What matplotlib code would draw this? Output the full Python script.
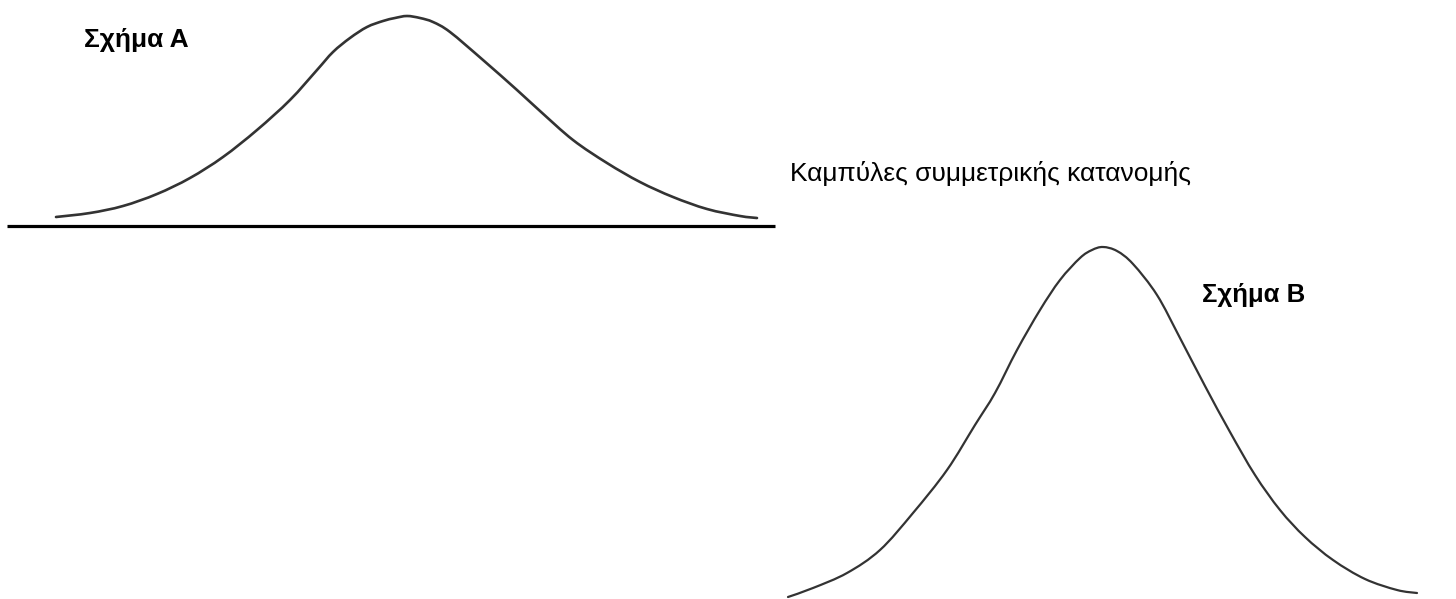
import matplotlib
matplotlib.use("Agg")
import matplotlib.pyplot as plt
import numpy as np
from matplotlib.path import Path
from matplotlib.patches import PathPatch

plt.rcParams["font.family"] = ["Liberation Sans", "DejaVu Sans"]

# curve A (figure pixels: x to the right, y downward)
curve_a_x = [56, 90, 123, 157, 190, 223, 257, 290, 317, 333, 350, 367, 383,
             395, 407, 420, 433, 450, 483, 517, 540, 573, 607, 640, 673,
             707, 740, 757]
curve_a_y = [217, 213, 206, 194, 178, 157, 130, 100, 70, 52, 38, 27, 21,
             18, 16, 18, 22, 32, 60, 90, 111, 140, 163, 182, 197,
             209, 216, 218]

# curve B
curve_b_x = [788, 813, 847, 880, 913, 947, 975, 995, 1017, 1040, 1060,
             1080, 1092, 1103, 1117, 1133, 1157, 1180, 1205, 1230, 1255,
             1280, 1305, 1333, 1365, 1397, 1417]
curve_b_y = [597, 588, 573, 550, 513, 470, 425, 393, 350, 310, 280,
             258, 250, 247, 251, 264, 295, 338, 386, 432, 475,
             510, 537, 560, 579, 590, 593]

baseline_x = [7, 775]
baseline_y = [226, 226]

label_a = "Σχήμα A"
label_b = "Σχήμα B"
caption = "Καμπύλες συμμετρικής κατανομής"


def smooth_path(xs, ys):
    # catmull-rom through the read points, as cubic bezier segments
    p = np.column_stack([xs, ys]).astype(float)
    p = np.vstack([p[0], p, p[-1]])
    verts = [p[1]]
    codes = [Path.MOVETO]
    for i in range(1, len(p) - 2):
        c1 = p[i] + (p[i + 1] - p[i - 1]) / 6
        c2 = p[i + 1] - (p[i + 2] - p[i]) / 6
        verts += [c1, c2, p[i + 1]]
        codes += [Path.CURVE4] * 3
    return Path(verts, codes)


W, H = 1456, 599
fig = plt.figure(figsize=(W / 100, H / 100), dpi=100)
ax = fig.add_axes([0, 0, 1, 1])
ax.set_xlim(0, W)
ax.set_ylim(H, 0)
ax.axis("off")

ax.add_patch(PathPatch(smooth_path(curve_a_x, curve_a_y), fill=False,
                       edgecolor="#333333", lw=1.9, capstyle="round", joinstyle="round"))
ax.add_patch(PathPatch(smooth_path(curve_b_x, curve_b_y), fill=False,
                       edgecolor="#333333", lw=1.6, capstyle="round", joinstyle="round"))
ax.plot(baseline_x, baseline_y, color="black", lw=2.3, solid_capstyle="butt")

ax.text(84, 47, label_a, fontsize=19, fontweight="bold", va="baseline", ha="left")
ax.text(1202, 302, label_b, fontsize=18.5, fontweight="bold", va="baseline", ha="left")
ax.text(790, 181, caption, fontsize=19, va="baseline", ha="left")

fig.savefig("out.png", dpi=100)
